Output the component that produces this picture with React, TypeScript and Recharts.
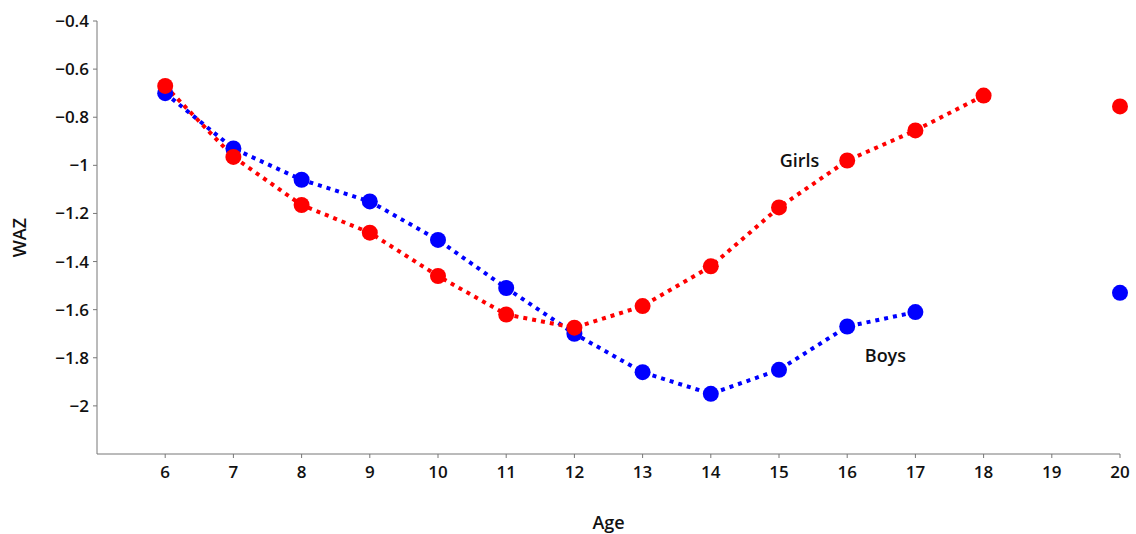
import {
  LineChart,
  Line,
  XAxis,
  YAxis,
  ReferenceDot,
} from "recharts";

const ages = [6, 7, 8, 9, 10, 11, 12, 13, 14, 15, 16, 17, 18, 19, 20];
const boysWaz = [-0.7, -0.93, -1.06, -1.15, -1.31, -1.51, -1.7, -1.86, -1.95, -1.85, -1.67, -1.61, null, null, -1.53];
const girlsWaz = [-0.67, -0.965, -1.165, -1.28, -1.46, -1.62, -1.675, -1.585, -1.42, -1.175, -0.98, -0.855, -0.71, null, -0.755];
const yTicks = [-2, -1.8, -1.6, -1.4, -1.2, -1, -0.8, -0.6, -0.4];

const data = ages.map((age, i) => ({ age, boys: boysWaz[i], girls: girlsWaz[i] }));

const font = "'Open Sans', sans-serif";
const tickStyle = { fontSize: 17, fontFamily: font, fontWeight: 600, fill: "#111" };

// plain minus sign and no trailing zeros, like the original
const fmt = (v: number) => String(Math.round(v * 10) / 10).replace("-", "\u2212");

export default function App() {
  return (
    <div style={{ position: "absolute", left: 0, top: 0, background: "#fff" }}>
      <LineChart width={1136} height={534} data={data} margin={{ top: 21, right: 16, left: 0, bottom: 0 }}>
        <XAxis
          dataKey="age"
          type="number"
          domain={[5, 20]}
          ticks={ages}
          height={80}
          stroke="#777"
          tickSize={4}
          tickMargin={8}
          tick={tickStyle}
          label={{ value: "Age", position: "insideBottom", offset: 5, style: { ...tickStyle, fontSize: 18 } }}
        />
        <YAxis
          type="number"
          domain={[-2.2, -0.4]}
          ticks={yTicks}
          width={97}
          stroke="#777"
          tickSize={4}
          tickMargin={4}
          tickFormatter={fmt}
          tick={tickStyle}
          label={{ value: "WAZ", angle: -90, position: "insideLeft", offset: 20, style: { ...tickStyle, fontSize: 18, textAnchor: "middle" } }}
        />
        <Line
          dataKey="boys"
          stroke="#0000ff"
          strokeWidth={4}
          strokeDasharray="4 5"
          dot={{ r: 8, fill: "#0000ff", stroke: "none" }}
          activeDot={false}
          isAnimationActive={false}
        />
        <Line
          dataKey="girls"
          stroke="#ff0000"
          strokeWidth={4}
          strokeDasharray="4 5"
          dot={{ r: 8, fill: "#ff0000", stroke: "none" }}
          activeDot={false}
          isAnimationActive={false}
        />
        <ReferenceDot
          x={15.3}
          y={-0.98}
          r={0}
          fill="none"
          stroke="none"
          label={{ value: "Girls", position: "center", style: { ...tickStyle, fontSize: 18 } }}
        />
        <ReferenceDot
          x={16.56}
          y={-1.79}
          r={0}
          fill="none"
          stroke="none"
          label={{ value: "Boys", position: "center", style: { ...tickStyle, fontSize: 18 } }}
        />
      </LineChart>
    </div>
  );
}
